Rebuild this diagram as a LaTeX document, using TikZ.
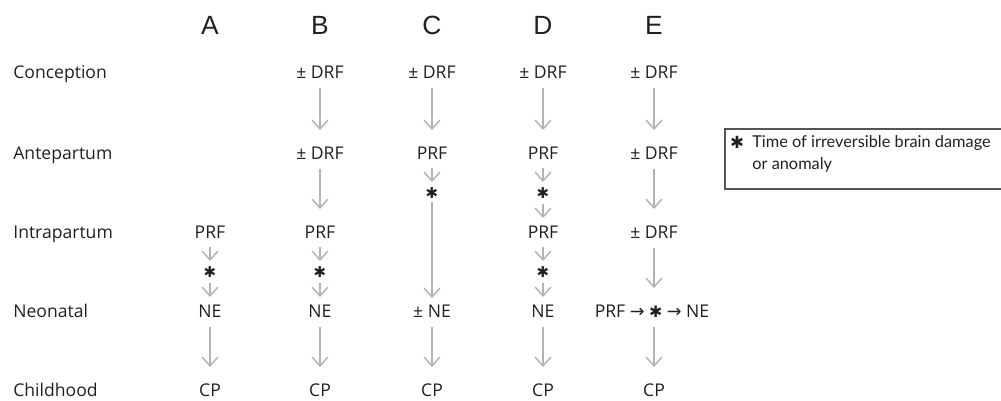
\documentclass[tikz,border=0pt]{standalone}
\usepackage{fontspec}
\setmainfont{Open Sans}
\newfontfamily\hdfont{Liberation Sans}
\newfontfamily\symfont{DejaVu Sans}
\newfontfamily\legfont{Lato}
\usetikzlibrary{arrows.meta}
\definecolor{arrowgray}{HTML}{B3B3B3}
\definecolor{boxgray}{HTML}{555555}
\definecolor{ink}{HTML}{231F20}
\begin{document}
\begin{tikzpicture}[x=0.02cm,y=-0.02cm,
  lbl/.style={inner sep=0pt, anchor=west, text=ink, font=\fontsize{10}{12}\selectfont, text height=7.1pt, text depth=0pt},
  txt/.style={inner sep=0pt, text=ink, font=\fontsize{10}{12}\selectfont, text height=7.1pt, text depth=0pt},
  hdr/.style={inner sep=0pt, text=ink, font=\hdfont\fontsize{15}{18}\selectfont, text height=10.8pt, text depth=0pt},
  star/.style={inner sep=0pt, text=ink, font=\symfont\fontsize{8.5}{10}\selectfont},
  arr/.style={draw=arrowgray, line width=0.85pt, -{Straight Barb[length=5pt,width=9pt]}},
  longarr/.style={arr, shorten <=0.32cm, shorten >=0.46cm},
  tostar/.style={arr, shorten <=0.30cm, shorten >=0.22cm},
  fromstar/.style={arr, shorten <=0.22cm, shorten >=0.28cm},
  legtxt/.style={inner sep=0pt, anchor=west, text=ink, font=\legfont\fontsize{9.3}{11}\selectfont, text height=6.7pt, text depth=0pt}
]
\useasboundingbox (0,0) rectangle (1001,401);

% headers
\node[hdr] (hA) at (210,25) {A};
\node[hdr] (hB) at (320,25) {B};
\node[hdr] (hC) at (432,25) {C};
\node[hdr] (hD) at (543,25) {D};
\node[hdr] (hE) at (654,25) {E};

% row labels
\node[lbl] (lConc) at (13,72) {Conception};
\node[lbl] (lAnte) at (13,153) {Antepartum};
\node[lbl] (lIntra) at (13,232) {Intrapartum};
\node[lbl] (lNeo) at (13,311) {Neonatal};
\node[lbl] (lChild) at (13,390) {Childhood};

% column A
\node[txt] (A3) at (210,232) {PRF};
\node[star] (sA) at (210,272) {✱};
\node[txt] (A4) at (210,311) {NE};
\node[txt] (A5) at (210,390) {CP};
\draw[tostar] (A3.center) -- (sA.center);
\draw[fromstar] (sA.center) -- (A4.center);
\draw[longarr] (A4.center) -- (A5.center);

% column B
\node[txt] (B1) at (320,72) {± DRF};
\node[txt] (B2) at (320,153) {± DRF};
\node[txt] (B3) at (320,232) {PRF};
\node[star] (sB) at (320,272) {✱};
\node[txt] (B4) at (320,311) {NE};
\node[txt] (B5) at (320,390) {CP};
\draw[longarr] (B1.center) -- (B2.center);
\draw[longarr] (B2.center) -- (B3.center);
\draw[tostar] (B3.center) -- (sB.center);
\draw[fromstar] (sB.center) -- (B4.center);
\draw[longarr] (B4.center) -- (B5.center);

% column C
\node[txt] (C1) at (432,72) {± DRF};
\node[txt] (C2) at (432,153) {PRF};
\node[star] (sC) at (432,193) {✱};
\node[txt] (C4) at (432,311) {± NE};
\node[txt] (C5) at (432,390) {CP};
\draw[longarr] (C1.center) -- (C2.center);
\draw[tostar] (C2.center) -- (sC.center);
\draw[arr, shorten <=0.18cm, shorten >=0.26cm] (sC.center) -- (C4.center);
\draw[longarr] (C4.center) -- (C5.center);

% column D
\node[txt] (D1) at (543,72) {± DRF};
\node[txt] (D2) at (543,153) {PRF};
\node[star] (sD1) at (543,193) {✱};
\node[txt] (D3) at (543,232) {PRF};
\node[star] (sD2) at (543,272) {✱};
\node[txt] (D4) at (543,311) {NE};
\node[txt] (D5) at (543,390) {CP};
\draw[longarr] (D1.center) -- (D2.center);
\draw[tostar] (D2.center) -- (sD1.center);
\draw[fromstar] (sD1.center) -- (D3.center);
\draw[tostar] (D3.center) -- (sD2.center);
\draw[fromstar] (sD2.center) -- (D4.center);
\draw[longarr] (D4.center) -- (D5.center);

% column E
\node[txt] (E4) at (652,311) {PRF {\symfont →} {\symfont\fontsize{9}{10}\selectfont ✱} {\symfont →} NE};
\node[txt] (E1) at (654,72) {± DRF};
\node[txt] (E2) at (654,153) {± DRF};
\node[txt] (E3) at (654,232) {± DRF};
\node[txt] (E5) at (654,390) {CP};
\draw[longarr] (E1.center) -- (E2.center);
\draw[longarr] (E2.center) -- (E3.center);
\draw[longarr] (E3.center) -- (E3.center |- E4.center);
\draw[longarr] (E4.center -| E5.center) -- (E5.center);

% legend (box runs off the right edge)
\begin{scope}
\clip (0,0) rectangle (1001,401);
\coordinate (boxTL) at (725,129);
\coordinate (boxBL) at (725,189);
\coordinate (boxTR) at (1030,129);
\coordinate (boxBR) at (1030,189);
\draw[boxgray, line width=0.7pt] (boxTR) -- (boxTL) -- (boxBL) -- (boxBR);
\end{scope}
\node[star, font=\symfont\fontsize{9.5}{10}\selectfont] (legStar) at (737,142) {✱};
\node[legtxt] (leg1) at (752,142) {Time of irreversible brain damage};
\node[legtxt] (leg2) at (752,164) {or anomaly};
\end{tikzpicture}
\end{document}
